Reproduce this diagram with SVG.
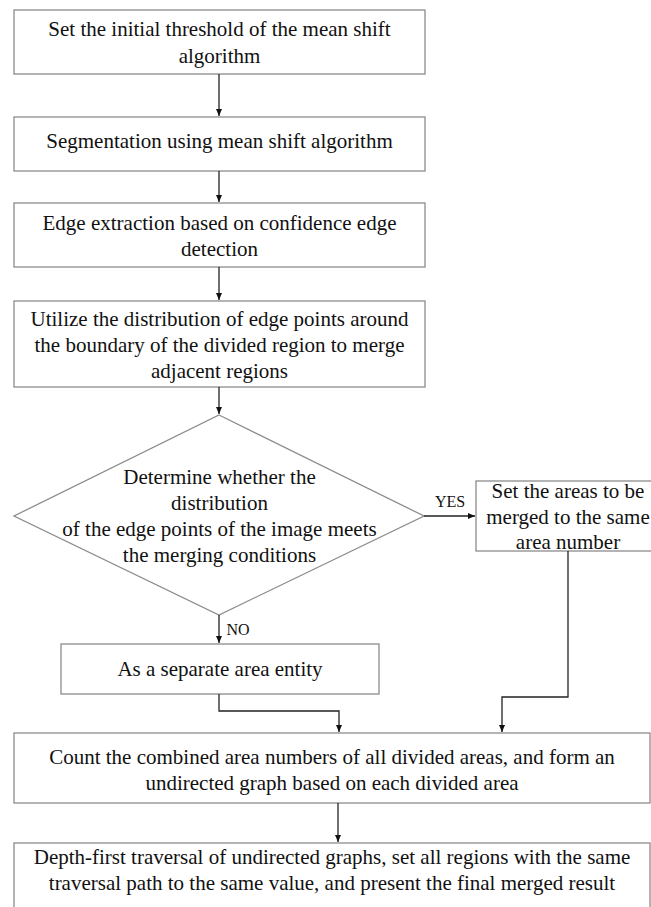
<svg xmlns="http://www.w3.org/2000/svg" width="651" height="907" viewBox="0 0 651 907">
<style>
.box{fill:#fff;stroke:#8c8c8c;stroke-width:1.3}
.t{font-family:"Liberation Serif","Times New Roman",serif;font-size:21px;fill:#111;text-anchor:middle}
.lbl{font-family:"Liberation Serif","Times New Roman",serif;font-size:16px;fill:#111;text-anchor:middle}
.c{fill:none;stroke:#222;stroke-width:1.3;marker-end:url(#ah)}
</style>
<defs>
<marker id="ah" markerUnits="userSpaceOnUse" markerWidth="8" markerHeight="8" refX="7" refY="4" orient="auto">
<path d="M0,1 L7,4 L0,7 Z" fill="#111"/>
</marker>
</defs>
<rect width="651" height="907" fill="#fff"/>
<g id="n1"><rect class="box" x="14" y="10" width="411" height="64"/>
<text class="t" x="219.5" y="36">Set the initial threshold of the mean shift</text>
<text class="t" x="219.5" y="63">algorithm</text></g>
<g id="n2"><rect class="box" x="14" y="117" width="411" height="54"/>
<text class="t" x="219.5" y="148">Segmentation using mean shift algorithm</text></g>
<g id="n3"><rect class="box" x="14" y="203" width="411" height="64"/>
<text class="t" x="219.5" y="230">Edge extraction based on confidence edge</text>
<text class="t" x="219.5" y="256">detection</text></g>
<g id="n4"><rect class="box" x="14" y="301" width="411" height="86"/>
<text class="t" x="219.5" y="326">Utilize the distribution of edge points around</text>
<text class="t" x="219.5" y="352">the boundary of the divided region to merge</text>
<text class="t" x="219.5" y="378">adjacent regions</text></g>
<g id="n5"><polygon class="box" points="219,415 424,516 219,615 14,516"/>
<text class="t" x="219.5" y="484">Determine whether the</text>
<text class="t" x="219.5" y="510">distribution</text>
<text class="t" x="219.5" y="536">of the edge points of the image meets</text>
<text class="t" x="219.5" y="562">the merging conditions</text></g>
<g id="n6"><rect class="box" x="476" y="481" width="190" height="70"/>
<text class="t" x="568" y="498">Set the areas to be</text>
<text class="t" x="568" y="523.5">merged to the same</text>
<text class="t" x="568" y="549">area number</text></g>
<g id="n7"><rect class="box" x="61" y="644" width="318" height="50"/>
<text class="t" x="220" y="676">As a separate area entity</text></g>
<g id="n8"><rect class="box" x="14" y="733" width="636" height="70"/>
<text class="t" x="332" y="764">Count the combined area numbers of all divided areas, and form an</text>
<text class="t" x="332" y="790">undirected graph based on each divided area</text></g>
<g id="n9"><rect class="box" x="14" y="843" width="636" height="80"/>
<text class="t" x="332" y="864">Depth-first traversal of undirected graphs, set all regions with the same</text>
<text class="t" x="332" y="890">traversal path to the same value, and present the final merged result</text></g>
<g id="connectors">
<path class="c" d="M219,74 V116"/>
<path class="c" d="M219,171 V202"/>
<path class="c" d="M219,267 V300"/>
<path class="c" d="M219,387 V414"/>
<path class="c" d="M424,516 H475"/>
<path class="c" d="M219,615 V643"/>
<path class="c" d="M219,694 V711 H339 V732"/>
<path class="c" d="M568,551 V697 H502 V732"/>
<path class="c" d="M338,803 V842"/>
<text class="lbl" x="450" y="507">YES</text>
<text class="lbl" x="238" y="635">NO</text>
</g>
</svg>
